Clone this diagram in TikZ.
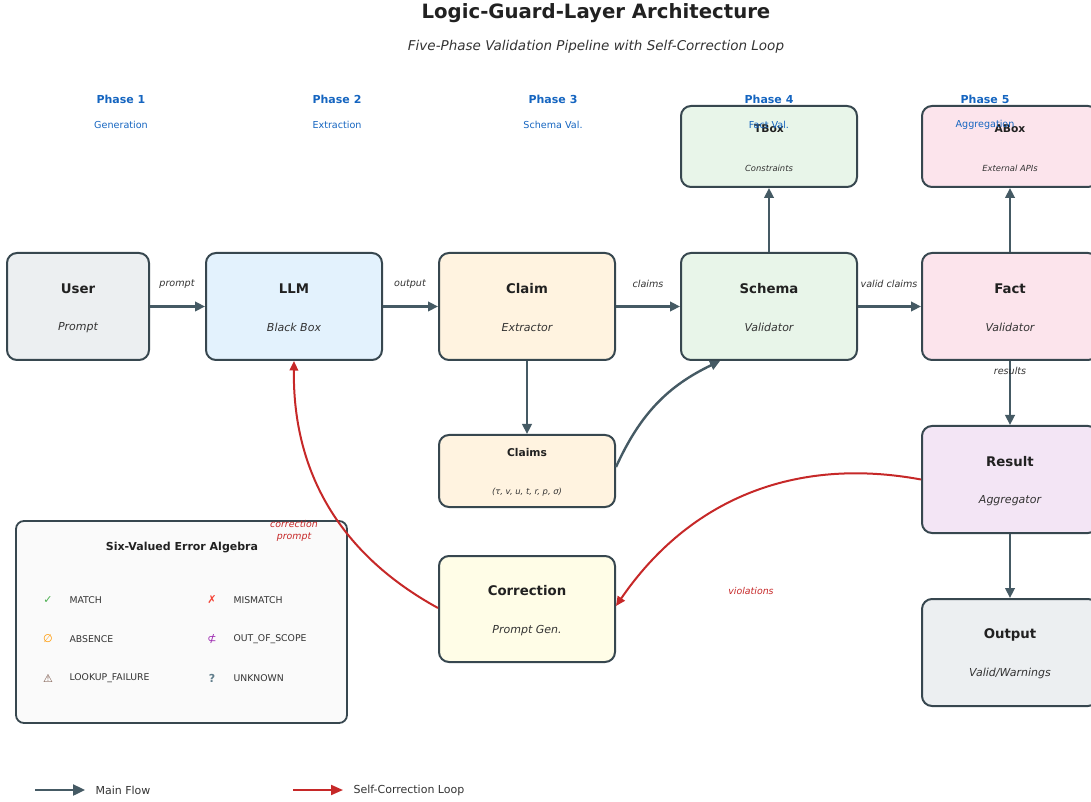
\documentclass[tikz,border=0pt]{standalone}
\usepackage{fontspec}
\setmainfont{DejaVu Sans}
\usetikzlibrary{arrows.meta}

\definecolor{boxline}{HTML}{37474F}
\definecolor{flowc}{HTML}{455A64}
\definecolor{loopc}{HTML}{C62828}
\definecolor{phasec}{HTML}{1565C0}
\definecolor{textdark}{HTML}{212121}
\definecolor{textsub}{HTML}{333333}
\definecolor{fgray}{HTML}{ECEFF1}
\definecolor{fblue}{HTML}{E3F2FD}
\definecolor{forange}{HTML}{FFF3E0}
\definecolor{fgreen}{HTML}{E8F5E9}
\definecolor{fpink}{HTML}{FCE4EC}
\definecolor{fpurple}{HTML}{F3E5F5}
\definecolor{fyellow}{HTML}{FFFDE7}
\definecolor{fpanel}{HTML}{FAFAFA}
\definecolor{symgreen}{HTML}{4CAF50}
\definecolor{symred}{HTML}{F44336}
\definecolor{symorange}{HTML}{FF9800}
\definecolor{sympurple}{HTML}{9C27B0}
\definecolor{symbrown}{HTML}{795548}
\definecolor{symslate}{HTML}{607D8B}

\newcommand{\fsz}[1]{\fontsize{#1}{#1}\selectfont}

\tikzset{
  box/.style={draw=boxline, line width=2pt, rounded corners=10pt,
    minimum width=176pt, minimum height=107pt, inner sep=0pt},
  smallbox/.style={box, minimum height=81pt},
  ttl/.style={font=\bfseries\fsz{13.3}, text=textdark},
  sub/.style={font=\itshape\fsz{11}, text=textsub},
  sttl/.style={font=\bfseries\fsz{10.7}, text=textdark},
  ssub/.style={font=\itshape\fsz{8.4}, text=textsub},
  elabel/.style={font=\itshape\fsz{9.6}, text=textsub},
  rlabel/.style={font=\itshape\fsz{9.4}, text=loopc, align=center},
  phase/.style={font=\bfseries\fsz{11}, text=phasec},
  phasesub/.style={font=\fsz{9.6}, text=phasec},
  flow/.style={draw=flowc, line width=2.4pt, -{Triangle[length=10pt,width=9.5pt]}},
  loop/.style={draw=loopc, line width=2pt, -{Triangle[length=9.5pt,width=8.5pt]}},
  item/.style={font=\fsz{9.3}, text=textsub, anchor=west},
  sym/.style={font=\fsz{11}},
  legendtext/.style={font=\fsz{11}, text=textsub, anchor=west},
}

\begin{document}
\begin{tikzpicture}[x=1pt,y=1pt]
\useasboundingbox (0,0) rectangle (1091,801);

% headings
\node[font=\bfseries\fsz{19.7}, text=textdark] (title) at (596,788) {Logic-Guard-Layer Architecture};
\node[font=\itshape\fsz{13.5}, text=textsub] (subtitle) at (596,754) {Five-Phase Validation Pipeline with Self-Correction Loop};

% pipeline boxes
\node[box, fill=fgray, minimum width=142pt] (user) at (78,494.5) {};
\node[box, fill=fblue] (llm) at (294,494.5) {};
\node[box, fill=forange] (claim) at (527,494.5) {};
\node[box, fill=fgreen] (schema) at (769,494.5) {};
\node[box, fill=fpink] (fact) at (1010,494.5) {};
\node[smallbox, fill=fgreen] (tbox) at (769,654.5) {};
\node[smallbox, fill=fpink] (abox) at (1010,654.5) {};
\node[box, fill=forange, minimum height=72pt] (claims) at (527,330) {};
\node[box, fill=fpurple] (result) at (1010,321.5) {};
\node[box, fill=fgray] (output) at (1010,148.5) {};
\node[box, fill=fyellow, minimum height=106pt] (correction) at (527,192) {};

% box texts
\node[ttl] (userT) at ([yshift=17.5]user.center) {User};
\node[sub] (userS) at ([yshift=-21]user.center) {Prompt};
\node[ttl] (llmT) at ([yshift=17.5]llm.center) {LLM};
\node[sub] (llmS) at ([yshift=-21]llm.center) {Black Box};
\node[ttl] (claimT) at ([yshift=17.5]claim.center) {Claim};
\node[sub] (claimS) at ([yshift=-21]claim.center) {Extractor};
\node[ttl] (schemaT) at ([yshift=17.5]schema.center) {Schema};
\node[sub] (schemaS) at ([yshift=-21]schema.center) {Validator};
\node[ttl] (factT) at ([yshift=17.5]fact.center) {Fact};
\node[sub] (factS) at ([yshift=-21]fact.center) {Validator};
\node[ttl] (resultT) at ([yshift=17.5]result.center) {Result};
\node[sub] (resultS) at ([yshift=-21.5]result.center) {Aggregator};
\node[ttl] (outputT) at ([yshift=18]output.center) {Output};
\node[sub] (outputS) at ([yshift=-21]output.center) {Valid/Warnings};
\node[ttl] (correctionT) at ([yshift=18]correction.center) {Correction};
\node[sub] (correctionS) at ([yshift=-21.5]correction.center) {Prompt Gen.};
\node[sttl] (tboxT) at ([yshift=17.5]tbox.center) {TBox};
\node[ssub] (tboxS) at ([yshift=-21.5]tbox.center) {Constraints};
\node[sttl] (aboxT) at ([yshift=17.5]abox.center) {ABox};
\node[ssub] (aboxS) at ([yshift=-21.5]abox.center) {External APIs};
\node[sttl] (claimsT) at ([yshift=18]claims.center) {Claims};
\node[ssub] (claimsS) at ([yshift=-21]claims.center) {(τ, v, u, t, r, p, σ)};

% phase headings
\node[phase] (p1) at (121,702) {Phase 1};
\node[phasesub] (p1s) at (121,676) {Generation};
\node[phase] (p2) at (337,702) {Phase 2};
\node[phasesub] (p2s) at (337,676) {Extraction};
\node[phase] (p3) at (553,702) {Phase 3};
\node[phasesub] (p3s) at (553,676) {Schema Val.};
\node[phase] (p4) at (769,702) {Phase 4};
\node[phasesub] (p4s) at (769,676) {Fact Val.};
\node[phase] (p5) at (985,702) {Phase 5};
\node[phasesub] (p5s) at (985,676) {Aggregation};

% main flow
\draw[flow] (user.east) -- (llm.west);
\draw[flow] (llm.east) -- (claim.west);
\draw[flow] (claim.east) -- (schema.west);
\draw[flow] (schema.east) -- (fact.west);
\draw[flow] (schema.north) -- (tbox.south);
\draw[flow] (fact.north) -- (abox.south);
\draw[flow] (claim.south) -- (claims.north);
\draw[flow] ([yshift=4]claims.east) to[bend left=20] ([xshift=-49]schema.south);
\draw[flow] (fact.south) -- (result.north);
\draw[flow] (result.south) -- (output.north);

\node[elabel] (lprompt) at (177,517) {prompt};
\node[elabel] (loutput) at (410,517) {output};
\node[elabel] (lclaims) at (648,517) {claims};
\node[elabel] (lvalid) at (889,517) {valid claims};
\node[elabel] (lresults) at (1010,430) {results};

% error algebra panel
\node[draw=boxline, line width=1.8pt, rounded corners=8pt, fill=fpanel,
      minimum width=331pt, minimum height=202pt] (algebra) at (181.5,179) {};
\node[font=\bfseries\fsz{11}, text=textdark] (algT) at (182,253) {Six-Valued Error Algebra};
\node[sym, text=symgreen] (s1) at (48,201) {✓};
\node[item] (t1) at (66,201) {MATCH};
\node[sym, text=symred] (s2) at (212,201) {✗};
\node[item] (t2) at (230,201) {MISMATCH};
\node[sym, text=symorange] (s3) at (48,162) {∅};
\node[item] (t3) at (66,162) {ABSENCE};
\node[sym, text=sympurple] (s4) at (212,162) {⊄};
\node[item] (t4) at (230,162) {OUT\_OF\_SCOPE};
\node[sym, text=symbrown] (s5) at (48,123) {⚠};
\node[item] (t5) at (66,123) {LOOKUP\_FAILURE};
\node[sym, text=symslate, font=\bfseries\fsz{11}] (s6) at (212,123) {?};
\node[item] (t6) at (230,123) {UNKNOWN};

% self-correction loop (drawn over the panel corner)
\draw[loop] (result.west) to[bend right=33] ([yshift=3]correction.east);
\draw[loop] ([yshift=1]correction.west) to[bend left=31] (llm.south);
\node[rlabel, font=\itshape\fontsize{9.4}{11.5}\selectfont] (lcorr) at (294,270) {correction\\prompt};
\node[rlabel] (lviol) at (751,210) {violations};

% legend
\coordinate (lgA) at (35,11);
\coordinate (lgB) at (85,11);
\coordinate (lgC) at (293,11);
\coordinate (lgD) at (343,11);
\draw[flow, -{Triangle[length=12pt,width=11pt]}] (lgA) -- (lgB);
\draw[loop, -{Triangle[length=12pt,width=10pt]}] (lgC) -- (lgD);
\node[legendtext] (lgT1) at (92,11) {Main Flow};
\node[legendtext] (lgT2) at (350,11) {Self-Correction Loop};
\end{tikzpicture}
\end{document}
